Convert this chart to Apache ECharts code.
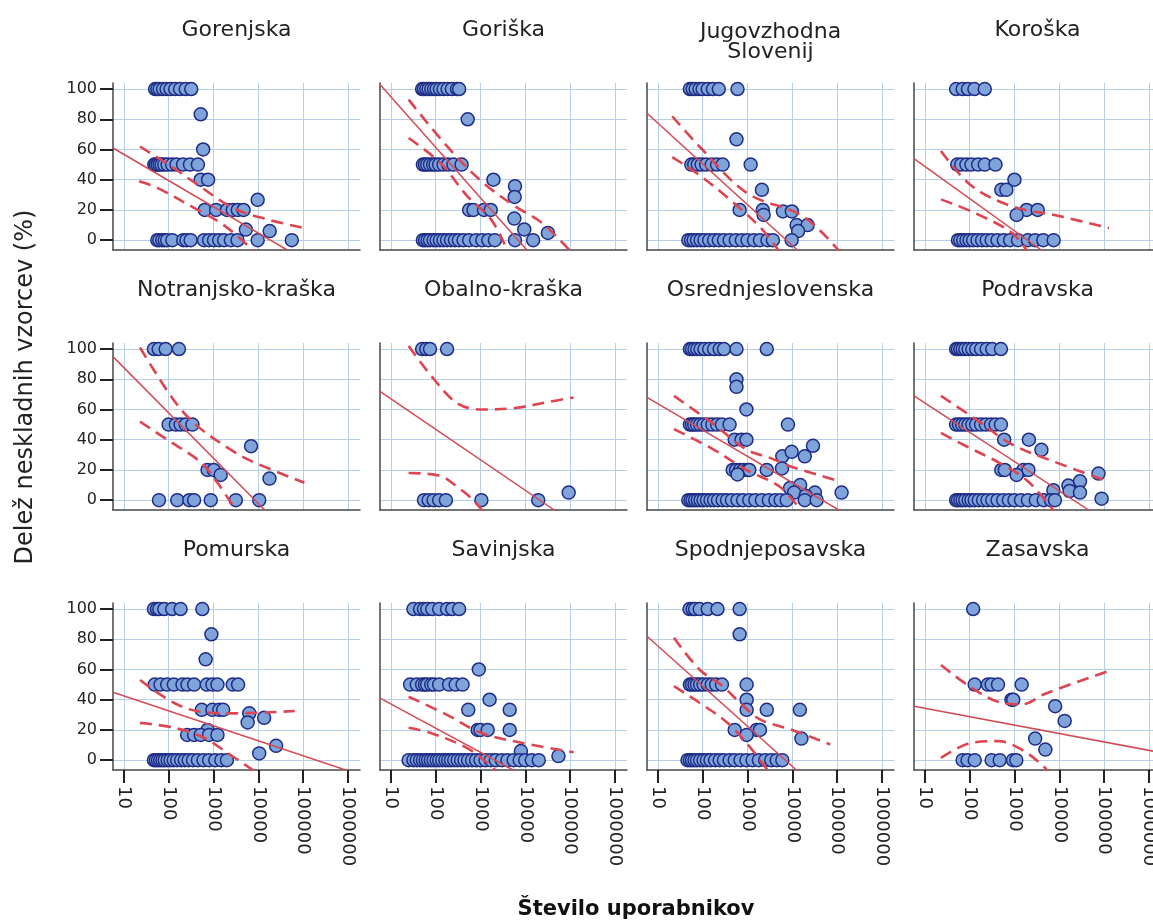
<!DOCTYPE html>
<html>
<head>
<meta charset="utf-8">
<title>Delež neskladnih vzorcev po regijah</title>
<script src="https://cdn.jsdelivr.net/npm/echarts@6/dist/echarts.min.js"></script>
<style>
  html, body { margin: 0; padding: 0; background: #fff; }
  #chart { width: 1153px; height: 924px; }
</style>
</head>
<body>
<div id="chart"></div>
<script>
// panel titles, left to right, top to bottom
const regions = ['Gorenjska', 'Goriška', 'Jugovzhodna\nSlovenij', 'Koroška',
  'Notranjsko-kraška', 'Obalno-kraška', 'Osrednjeslovenska', 'Podravska',
  'Pomurska', 'Savinjska', 'Spodnjeposavska', 'Zasavska'];

const xTicks = [10, 100, 1000, 10000, 100000, 1000000];
const yTicks = [0, 20, 40, 60, 80, 100];

// [število uporabnikov, delež neskladnih vzorcev %]
const gorenjska = [
  [50, 100], [56, 100], [63, 100], [75, 100], [90, 100], [110, 100], [140, 100], [180, 100], [240, 100], [320, 100],
  [520, 83.3], [590, 60],
  [48, 50], [52, 50], [57, 50], [63, 50], [70, 50], [80, 50], [95, 50], [120, 50], [150, 50], [210, 50], [300, 50], [450, 50],
  [520, 40], [760, 40], [9700, 26.7],
  [640, 20], [1150, 20], [2000, 20], [2700, 20], [3500, 20], [4700, 20],
  [5300, 7], [18000, 6],
  [56, 0], [62, 0], [72, 0], [82, 0], [93, 0], [121, 0], [212, 0], [250, 0], [310, 0], [614, 0], [800, 0],
  [1030, 0], [1340, 0], [1730, 0], [2450, 0], [3450, 0], [9700, 0], [56000, 0]
];
const goriska = [
  [50, 100], [55, 100], [62, 100], [70, 100], [80, 100], [92, 100], [105, 100], [125, 100], [150, 100], [185, 100], [230, 100], [300, 100], [335, 100],
  [520, 80],
  [52, 50], [58, 50], [65, 50], [75, 50], [88, 50], [100, 50], [120, 50], [150, 50], [190, 50], [250, 50], [380, 50],
  [1950, 40], [5900, 35.7], [5800, 28.6],
  [560, 20], [700, 20], [1200, 20], [1700, 20],
  [5700, 14.3], [9500, 7.1], [32000, 4.8],
  [52, 0], [58, 0], [66, 0], [75, 0], [90, 0], [105, 0], [125, 0], [150, 0], [180, 0], [220, 0], [270, 0], [330, 0],
  [420, 0], [560, 0], [800, 0], [1100, 0], [1500, 0], [2100, 0], [5900, 0], [15000, 0]
];
const jugovzhodna = [
  [52, 100], [60, 100], [70, 100], [85, 100], [100, 100], [130, 100], [170, 100], [230, 100], [600, 100],
  [570, 66.7],
  [56, 50], [65, 50], [78, 50], [95, 50], [120, 50], [160, 50], [210, 50], [280, 50], [1180, 50],
  [2100, 33.3],
  [670, 20], [2200, 20], [2300, 16.7], [6200, 19], [9800, 19],
  [12500, 10], [22000, 10], [13500, 6],
  [48, 0], [55, 0], [63, 0], [75, 0], [90, 0], [110, 0], [140, 0], [180, 0], [230, 0], [300, 0], [400, 0], [550, 0],
  [750, 0], [1000, 0], [1400, 0], [1900, 0], [2800, 0], [3700, 0], [9700, 0]
];
const koroska = [
  [50, 100], [70, 100], [92, 100], [128, 100], [218, 100],
  [53, 50], [65, 50], [85, 50], [110, 50], [155, 50], [218, 50], [378, 50],
  [1000, 40], [510, 33.3], [660, 33.3],
  [1870, 20], [3300, 20], [1120, 16.7],
  [55, 0], [62, 0], [72, 0], [85, 0], [100, 0], [120, 0], [150, 0], [190, 0], [240, 0], [310, 0], [420, 0], [580, 0],
  [800, 0], [1200, 0], [2000, 0], [2900, 0], [4400, 0], [7500, 0]
];
const notranjsko = [
  [47, 100], [60, 100], [86, 100], [170, 100],
  [100, 50], [145, 50], [185, 50], [240, 50], [340, 50],
  [6900, 35.7], [740, 20], [1020, 20], [1450, 16.7], [17800, 14.3],
  [61, 0], [156, 0], [290, 0], [370, 0], [870, 0], [3160, 0], [10500, 0]
];
const obalno = [
  [50, 100], [62, 100], [75, 100], [180, 100],
  [55, 0], [70, 0], [90, 0], [120, 0], [170, 0], [1050, 0], [19500, 0], [93000, 5]
];
const osrednje = [
  [52, 100], [58, 100], [66, 100], [76, 100], [90, 100], [110, 100], [140, 100], [180, 100], [240, 100], [300, 100], [570, 100], [2700, 100],
  [570, 80], [570, 75], [950, 60],
  [52, 50], [58, 50], [65, 50], [75, 50], [88, 50], [105, 50], [130, 50], [165, 50], [210, 50], [270, 50], [400, 50], [8000, 50],
  [520, 40], [740, 40], [950, 40],
  [6000, 29], [9700, 32], [19000, 29], [29000, 36],
  [470, 20], [560, 20], [680, 20], [820, 20], [1000, 20], [1100, 20], [2700, 20], [5900, 21], [600, 17],
  [8900, 8], [15000, 10], [11000, 5], [32000, 5], [126000, 5], [20000, 3],
  [48, 0], [54, 0], [60, 0], [68, 0], [78, 0], [90, 0], [105, 0], [125, 0], [150, 0], [180, 0], [220, 0], [280, 0],
  [350, 0], [450, 0], [600, 0], [800, 0], [1100, 0], [1500, 0], [2100, 0], [3000, 0], [4200, 0], [5500, 0], [7500, 0],
  [19000, 0], [35000, 0]
];
const podravska = [
  [50, 100], [55, 100], [62, 100], [70, 100], [80, 100], [95, 100], [115, 100], [140, 100], [180, 100], [240, 100], [320, 100], [500, 100],
  [50, 50], [58, 50], [68, 50], [80, 50], [95, 50], [115, 50], [140, 50], [180, 50], [230, 50], [300, 50], [380, 50], [500, 50],
  [590, 40], [2100, 40], [4000, 33.3],
  [510, 20], [610, 20], [1580, 20], [2050, 20], [1120, 16.7],
  [7400, 6.6], [16000, 9.7], [17000, 6], [29000, 12.5], [29000, 5], [75000, 17.6], [88000, 1],
  [50, 0], [55, 0], [62, 0], [70, 0], [80, 0], [95, 0], [110, 0], [130, 0], [160, 0], [200, 0], [250, 0], [320, 0],
  [420, 0], [560, 0], [750, 0], [1000, 0], [1400, 0], [2000, 0], [3000, 0], [4500, 0], [6500, 0], [8000, 0]
];
const pomurska = [
  [47, 100], [55, 100], [62, 100], [80, 100], [120, 100], [185, 100], [565, 100],
  [900, 83.3], [670, 66.7],
  [49, 50], [66, 50], [93, 50], [131, 50], [204, 50], [263, 50], [371, 50], [710, 50], [950, 50], [1230, 50], [2690, 50], [3550, 50],
  [550, 33.3], [950, 33.3], [1350, 33.3], [1650, 33.3], [6300, 31], [13500, 28], [5800, 25],
  [740, 20], [260, 16.7], [370, 16.7], [520, 16.7], [800, 16.7], [1230, 16.7],
  [25000, 9.5], [10500, 4.5],
  [47, 0], [52, 0], [58, 0], [65, 0], [73, 0], [82, 0], [95, 0], [110, 0], [130, 0], [155, 0], [190, 0], [230, 0],
  [280, 0], [350, 0], [450, 0], [600, 0], [800, 0], [1100, 0], [1500, 0], [2000, 0]
];
const savinjska = [
  [32, 100], [45, 100], [55, 100], [65, 100], [84, 100], [120, 100], [180, 100], [235, 100], [335, 100],
  [920, 60],
  [27, 50], [38, 50], [50, 50], [58, 50], [65, 50], [80, 50], [92, 50], [120, 50], [200, 50], [280, 50], [400, 50],
  [1600, 40], [535, 33.3], [4500, 33.3],
  [870, 20], [1000, 20], [1450, 20], [4500, 20],
  [8000, 6], [55000, 2.7],
  [25, 0], [32, 0], [38, 0], [45, 0], [52, 0], [60, 0], [68, 0], [78, 0], [90, 0], [105, 0], [120, 0], [140, 0],
  [165, 0], [190, 0], [220, 0], [260, 0], [310, 0], [370, 0], [440, 0], [530, 0], [650, 0], [800, 0], [1000, 0],
  [1300, 0], [1700, 0], [2200, 0], [3000, 0], [4000, 0], [5500, 0], [7500, 0], [10000, 0], [14000, 0], [20000, 0]
];
const spodnjeposavska = [
  [51, 100], [60, 100], [68, 100], [86, 100], [130, 100], [215, 100], [670, 100],
  [670, 83.3],
  [52, 50], [58, 50], [66, 50], [75, 50], [88, 50], [105, 50], [130, 50], [160, 50], [200, 50], [270, 50], [960, 50],
  [960, 40], [960, 33.3], [2700, 33.3], [14800, 33.3],
  [520, 20], [1600, 20], [960, 16.7], [1900, 20], [16000, 14.3],
  [46, 0], [52, 0], [58, 0], [66, 0], [75, 0], [88, 0], [105, 0], [125, 0], [150, 0], [190, 0], [240, 0], [300, 0],
  [400, 0], [520, 0], [700, 0], [950, 0], [1300, 0], [1800, 0], [2500, 0], [3400, 0], [4500, 0], [6000, 0]
];
const zasavska = [
  [120, 100],
  [130, 50], [255, 50], [310, 50], [430, 50], [1450, 50],
  [860, 40], [940, 40], [8100, 35.7], [13200, 26], [2900, 14.3], [4900, 7],
  [70, 0], [90, 0], [130, 0], [310, 0], [470, 0], [930, 0], [1100, 0]
];

const points = [gorenjska, goriska, jugovzhodna, koroska, notranjsko, obalno,
  osrednje, podravska, pomurska, savinjska, spodnjeposavska, zasavska];

// fitted line (two ends) per panel
const fitLines = [
  [[5.75, 61], [47000, -7]],
  [[5.75, 103], [11200, -7]],
  [[5.75, 84], [13500, -7]],
  [[5.75, 54], [4200, -7]],
  [[5.75, 95], [14500, -7]],
  [[5.75, 72], [47000, -7]],
  [[5.75, 68], [117000, -7]],
  [[5.75, 69], [48000, -7]],
  [[5.75, 45], [1000000, -7]],
  [[5.75, 41], [5750, -7]],
  [[5.75, 82], [12900, -7]],
  [[5.75, 35.7], [1860000, 5]]
];

// dashed confidence band, upper edge
const upperBands = [
  [[23, 62], [132, 47.6], [372, 38.3], [2880, 21], [16200, 13.7], [126000, 7.5]],
  [[25, 93], [182, 62], [1050, 39], [5900, 22.5], [23400, 11.5], [100000, -7]],
  [[21, 82], [85, 62], [1000, 31], [17000, 16], [110000, -7]],
  [[23, 59], [110, 36], [870, 22.5], [9800, 16], [129000, 8]],
  [[23, 101], [132, 66], [440, 49], [2900, 32], [8100, 25], [107000, 11.5]],
  [[25, 102], [92, 80], [310, 64], [1050, 60], [5900, 61], [33000, 65], [120000, 68]],
  [[23, 69], [165, 51], [950, 33.5], [3200, 28], [10000, 22], [115000, 12.5]],
  [[23, 69], [130, 54], [870, 37], [6900, 26], [117000, 12.6]],
  [[23, 53], [130, 38], [520, 32], [2900, 31], [65000, 32.5]],
  [[25, 42], [180, 30], [1050, 18], [8300, 11.5], [120000, 5.3]],
  [[23, 81], [85, 60], [280, 49], [680, 38], [1900, 27], [10000, 20], [70000, 10.4]],
  [[23, 63], [110, 48], [510, 38], [1450, 37], [4900, 44], [127000, 59]]
];

// dashed confidence band, lower edge
const lowerBands = [
  [[22, 39], [56, 34.6], [370, 21.4], [1260, 12.5], [3160, 3.7], [7800, -7]],
  [[25, 67.6], [129, 51], [513, 29], [1740, 13.6], [4000, -7]],
  [[21, 55], [85, 43], [400, 27], [2000, 8], [5000, -7]],
  [[23, 27], [130, 18], [870, 5], [1900, -7]],
  [[23, 52], [93, 40], [525, 25], [1230, 11.5], [3200, -7]],
  [[25, 18], [130, 16], [300, 9], [700, 0], [1100, -7]],
  [[23, 47], [165, 34], [950, 20], [5200, 9], [16000, -7]],
  [[23, 44.5], [80, 36], [440, 25], [1740, 14], [4900, 0], [7500, -7]],
  [[23, 24.7], [130, 21.5], [600, 15], [1800, 6], [8000, -7]],
  [[25, 21.4], [78, 18], [440, 9], [1050, 1.5], [2200, -7]],
  [[23, 49], [85, 38], [350, 25], [950, 11.5], [2900, -7]],
  [[23, 1.5], [110, 11.5], [440, 12.6], [1450, 7], [4100, -3], [5500, -7]]
];

const FONT = 'DejaVu Sans';
const GRID_BLUE = '#b5cfea';
const AXIS_GREY = '#474747';
const RED = '#de4550';

const colLeft = [113, 380, 647, 914];
const rowTop = [83, 343, 603];
const titleTop = [20, 280, 540];

const grids = [];
const xAxes = [];
const yAxes = [];
const series = [];
const titles = [];

regions.forEach((name, i) => {
  const r = Math.floor(i / 4);
  const c = i % 4;

  // last column runs past the right edge of the picture, as in the original
  grids.push({ left: colLeft[c], top: rowTop[r], width: 247, height: 167, outerBoundsMode: 'none', containLabel: false });

  titles.push({
    text: name,
    left: colLeft[c] + 123.5,
    top: titleTop[r] + (name.indexOf('\n') >= 0 ? 2 : 0),
    textAlign: 'center',
    padding: 0,
    textStyle: { fontFamily: FONT, fontSize: 22, fontWeight: 'normal', color: '#222', lineHeight: 20 }
  });

  xAxes.push({
    type: 'log',
    logBase: 10,
    gridIndex: i,
    min: 5.75,
    max: 1860000,
    axisLine: { show: true, onZero: false, lineStyle: { color: AXIS_GREY, width: 1.5 } },
    axisTick: { show: r === 2, length: 13, customValues: xTicks, lineStyle: { color: '#222', width: 2 } },
    axisLabel: {
      show: r === 2,
      customValues: xTicks,
      rotate: -90,
      margin: 16,
      fontFamily: FONT,
      fontSize: 18,
      color: '#222',
      formatter: (v) => String(Math.round(v))
    },
    splitLine: { show: true, lineStyle: { color: GRID_BLUE, width: 1 } }
  });

  yAxes.push({
    type: 'value',
    gridIndex: i,
    min: -6.5,
    max: 104,
    axisLine: { show: true, onZero: false, lineStyle: { color: AXIS_GREY, width: 1.5 } },
    axisTick: { show: c === 0, length: 13, customValues: yTicks, lineStyle: { color: '#222', width: 2 } },
    axisLabel: { show: c === 0, customValues: yTicks, margin: 16, fontFamily: FONT, fontSize: 16, color: '#222' },
    splitLine: { show: true, lineStyle: { color: GRID_BLUE, width: 1 } }
  });

  series.push({
    type: 'scatter',
    xAxisIndex: i,
    yAxisIndex: i,
    data: points[i],
    symbolSize: 13,
    itemStyle: { color: '#7ea4da', borderColor: '#1f2c86', borderWidth: 1.5, opacity: 1 },
    z: 2
  });

  series.push({
    type: 'line',
    xAxisIndex: i,
    yAxisIndex: i,
    data: fitLines[i],
    showSymbol: false,
    symbol: 'none',
    lineStyle: { color: '#d34b55', width: 1.5 },
    z: 3,
    silent: true
  });

  [upperBands[i], lowerBands[i]].forEach((band) => {
    series.push({
      type: 'line',
      xAxisIndex: i,
      yAxisIndex: i,
      data: band,
      smooth: 0.35,
      showSymbol: false,
      symbol: 'none',
      lineStyle: { color: RED, width: 2.6, type: [12, 7] },
      z: 4,
      silent: true
    });
  });
});

const chart = echarts.init(document.getElementById('chart'));
chart.setOption({
  animation: false,
  backgroundColor: '#fff',
  title: titles,
  grid: grids,
  xAxis: xAxes,
  yAxis: yAxes,
  series: series,
  graphic: [
    {
      type: 'text',
      x: 636,
      y: 910,
      style: { text: 'Število uporabnikov', font: 'bold 21px "DejaVu Sans"', fill: '#111', align: 'center', verticalAlign: 'middle' }
    },
    {
      type: 'text',
      x: 26,
      y: 387,
      rotation: Math.PI / 2,
      style: { text: 'Delež neskladnih vzorcev (%)', font: '24px "DejaVu Sans"', fill: '#222', align: 'center', verticalAlign: 'middle' }
    }
  ]
});
</script>
</body>
</html>
